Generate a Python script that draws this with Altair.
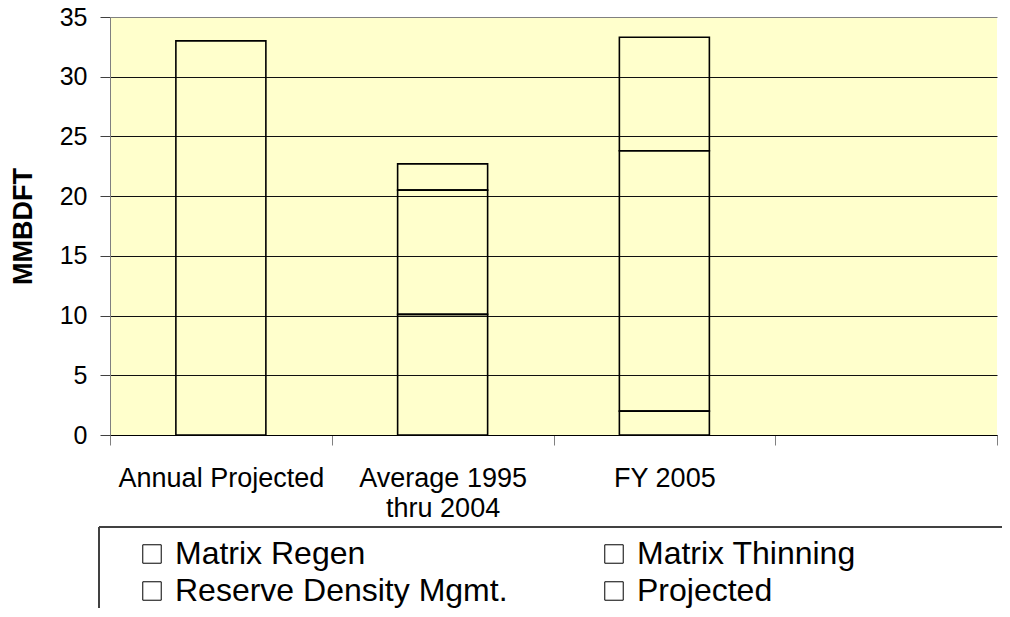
import altair as alt
import pandas as pd

categories = ["Annual Projected", "Average 1995 thru 2004", "FY 2005", " "]
series = ["Matrix Regen", "Matrix Thinning", "Reserve Density Mgmt.", "Projected"]
matrix_regen = [0.0, 10.1, 2.0, 0.0]
matrix_thinning = [0.0, 10.4, 21.8, 0.0]
reserve_density = [0.0, 2.2, 9.5, 0.0]
projected = [33.0, 0.0, 0.0, 0.0]
y_ticks = [0, 5, 10, 15, 20, 25, 30, 35]

rows = []
for k, (s, vals) in enumerate(zip(series, [matrix_regen, matrix_thinning, reserve_density, projected])):
    for c, v in zip(categories, vals):
        if v > 0:
            rows.append({"category": c, "series": s, "value": v, "order": k})
df = pd.DataFrame(rows)

FONT = "Liberation Sans"

bars = alt.Chart(df).mark_bar(
    width=90, fillOpacity=0, stroke="black", strokeWidth=1.6
).encode(
    x=alt.X(
        "category:N",
        sort=categories,
        scale=alt.Scale(domain=categories, paddingInner=0, paddingOuter=0),
        axis=alt.Axis(
            title=None, labelAngle=0, tickBand="extent", grid=False,
            labelFont=FONT, labelFontSize=27, labelColor="black", labelLimit=400,
            labelPadding=20, labelLineHeight=30, labelBaseline="top",
            labelExpr="datum.label == 'Average 1995 thru 2004' ? ['Average 1995', 'thru 2004'] : datum.label",
            tickSize=10, tickColor="#808080", domainColor="black", domainWidth=1,
        ),
    ),
    y=alt.Y(
        "value:Q",
        stack="zero",
        scale=alt.Scale(domain=[0, 35], nice=False),
        axis=alt.Axis(
            values=y_ticks, title="MMBDFT", titleFont=FONT, titleFontSize=27,
            titleFontWeight="bold", titleColor="black", titlePadding=22,
            labelFont=FONT, labelFontSize=25, labelColor="black", labelPadding=13,
            tickSize=10, tickColor="#404040", domainColor="#808080",
            grid=True, gridColor={"expr": "datum.value == 35 ? '#808080' : '#101010'"}, gridWidth=1,
        ),
    ),
    color=alt.Color(
        "series:N",
        scale=alt.Scale(domain=series, range=["white", "white", "white", "white"]),
        legend=alt.Legend(
            title=None, orient="none", legendX=26, legendY=521, columns=2,
            direction="horizontal",
            symbolType="square", symbolSize=340, symbolStrokeWidth=1,
            symbolStrokeColor="black",
            labelFont=FONT, labelFontSize=32, labelColor="black", labelOffset=7,
            labelLimit=0, columnPadding=90, rowPadding=5, padding=0,
        ),
    ),
    order=alt.Order("order:Q"),
)

frame_top = alt.Chart(df).mark_rule(color="#404040", strokeWidth=1).encode(
    x=alt.value(-11), x2=alt.value(892), y=alt.value(510)
)
frame_left = alt.Chart(df).mark_rule(color="#404040", strokeWidth=1).encode(
    x=alt.value(-11), y=alt.value(510), y2=alt.value(610)
)

chart = alt.layer(bars, frame_top, frame_left).properties(
    width=887, height=418,
    background="white",
    autosize=alt.AutoSizeParams(type="none"),
    padding={"left": 102, "top": 9, "right": 5, "bottom": 173},
).configure_view(fill="#FFFFCC", strokeWidth=0)

chart.save("out.html", embed_options={"renderer": "svg", "actions": False})
